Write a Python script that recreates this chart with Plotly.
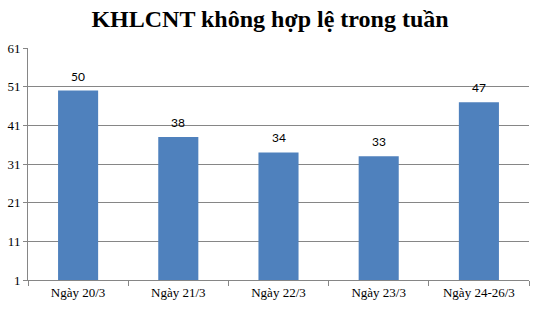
import plotly.graph_objects as go

categories = ["Ngày 20/3", "Ngày 21/3", "Ngày 22/3", "Ngày 23/3", "Ngày 24-26/3"]
values = [50, 38, 34, 33, 47]
y_ticks = [1, 11, 21, 31, 41, 51, 61]

serif = "Liberation Serif, Times New Roman, serif"

fig = go.Figure()
fig.add_trace(go.Bar(
    x=categories, y=values, base=0,
    marker=dict(color="#4F81BD", line=dict(width=0)),
    hoverinfo="x+y",
))

for c, v in zip(categories, values):
    fig.add_annotation(
        x=c, y=v, text=str(v), showarrow=False,
        yanchor="bottom", yshift=5,
        font=dict(family="Lato, Open Sans, sans-serif", size=12, color="#000000"),
    )

fig.update_layout(
    width=540, height=310,
    margin=dict(l=28, r=11, t=48, b=30),
    paper_bgcolor="white", plot_bgcolor="white",
    bargap=0.6,
    showlegend=False,
    title=dict(text="<b>KHLCNT không hợp lệ trong tuần</b>", x=0.5, xanchor="center",
               y=0.94, yanchor="middle",
               font=dict(family=serif, size=24, color="#000000")),
)
fig.update_yaxes(
    range=[1, 61], tickvals=y_ticks, ticktext=[str(t) for t in y_ticks],
    showgrid=True, gridcolor="#868686", gridwidth=1,
    showline=True, linecolor="#868686", linewidth=1,
    ticks="outside", ticklen=4, tickcolor="#868686",
    tickfont=dict(family=serif, size=13, color="#000000"),
    zeroline=False, fixedrange=True, automargin=False,
)
fig.update_xaxes(
    showline=True, linecolor="#868686", linewidth=1,
    ticks="outside", tickson="boundaries", ticklen=5, tickcolor="#868686",
    tickfont=dict(family=serif, size=13, color="#000000"),
    showgrid=False, automargin=False,
)

fig.write_html("out.html")
